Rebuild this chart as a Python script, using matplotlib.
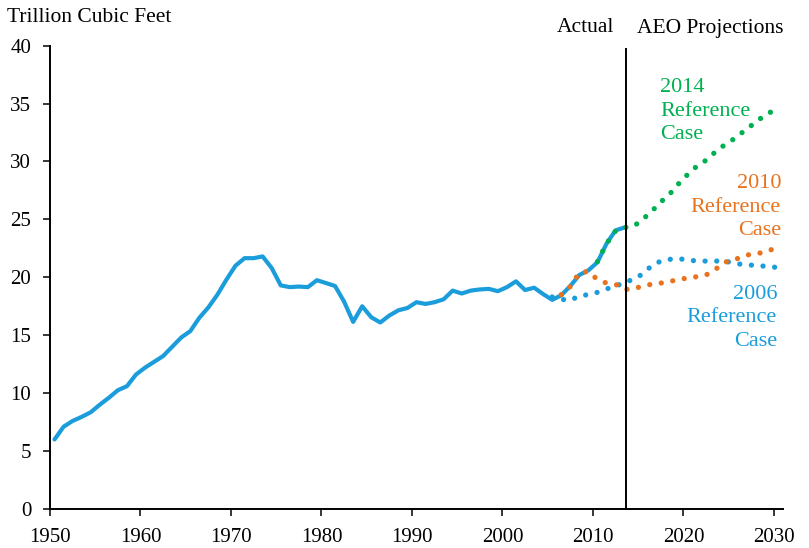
import numpy as np
import matplotlib
matplotlib.use('Agg')
import matplotlib.pyplot as plt

#%% Data (trillion cubic feet)

actual_years = np.arange(1950, 2014)
actual_vals = [6.0, 7.1, 7.6, 7.95, 8.35, 9.0, 9.6, 10.25, 10.6, 11.6,
               12.2, 12.7, 13.2, 14.0, 14.8, 15.35, 16.5, 17.4, 18.5, 19.8,
               21.0, 21.65, 21.65, 21.8, 20.8, 19.3, 19.15, 19.2, 19.15, 19.75,
               19.5, 19.25, 17.9, 16.15, 17.5, 16.55, 16.1, 16.7, 17.15, 17.35,
               17.85, 17.7, 17.85, 18.1, 18.85, 18.6, 18.85, 18.95, 19.0, 18.8,
               19.15, 19.65, 18.9, 19.1, 18.55, 18.05, 18.45, 19.25, 20.2, 20.6,
               21.3, 22.9, 24.05, 24.3]

aeo2014_years = np.arange(2010, 2031)
aeo2014_vals = [21.35, 22.9, 24.0, 24.3, 24.4, 25.0, 25.7, 26.5, 27.2, 28.1,
                28.9, 29.6, 30.1, 30.8, 31.4, 31.9, 32.5, 33.1, 33.7, 34.2, 34.6]

aeo2010_years = np.arange(2006, 2031)
aeo2010_vals = [18.5, 19.2, 20.4, 20.5, 19.8, 19.5, 19.4, 18.95, 19.0, 19.25,
                19.4, 19.5, 19.65, 19.8, 19.95, 20.05, 20.2, 20.65, 21.3, 21.45,
                21.8, 22.0, 22.1, 22.35, 22.5]

aeo2006_years = np.arange(2005, 2031)
aeo2006_vals = [18.3, 18.1, 18.0, 18.4, 18.5, 18.7, 19.0, 19.2, 19.6, 19.8,
                20.3, 21.0, 21.4, 21.55, 21.6, 21.5, 21.4, 21.4, 21.4, 21.4,
                21.25, 21.1, 21.05, 21.0, 20.9, 20.85]

x_ticks = [1950, 1960, 1970, 1980, 1990, 2000, 2010, 2020, 2030]
y_ticks = [0, 5, 10, 15, 20, 25, 30, 35, 40]

split_year = 2013.7

#%% Style

blue = '#1b9ddb'
green = '#00b050'
orange = '#e8731f'

plt.rcParams['font.family'] = ['Liberation Serif', 'DejaVu Serif']

fig = plt.figure(figsize=(8.09, 5.48), dpi=100)
ax = fig.add_axes([0.0618, 0.0712, 0.906, 0.8456])

# values are drawn at mid-year
off = 0.5
dot_style = dict(linestyle=(0, (0.01, 2.2)), linewidth=3.8,
                 dash_capstyle='round', clip_on=False, zorder=3)

ax.plot(actual_years + off, actual_vals, color=blue, linewidth=3.0,
        solid_capstyle='round', solid_joinstyle='round', zorder=2)
ax.plot(aeo2006_years + off, aeo2006_vals, color=blue, **dot_style)
ax.plot(aeo2010_years + off, aeo2010_vals, color=orange, **dot_style)
ax.plot(aeo2014_years + off, aeo2014_vals, color=green, **dot_style)

ax.plot([split_year, split_year], [0, 39.7], color='black', linewidth=1.4,
        zorder=4)

#%% Axes format

ax.set_xlim(1950, 2031)
ax.set_ylim(0, 40)
ax.set_xticks(x_ticks)
ax.set_yticks(y_ticks)
ax.tick_params(axis='both', direction='out', length=5, width=1.1,
               labelsize=15, color='black')
ax.tick_params(axis='y', pad=8.5)
ax.tick_params(axis='x', pad=9)
for s in ['top', 'right']:
    ax.spines[s].set_visible(False)
for s in ['left', 'bottom']:
    ax.spines[s].set_linewidth(1.4)

#%% Text

fig.text(7 / 809, 1 - 17 / 548, 'Trillion Cubic Feet', fontsize=15.5,
         ha='left', va='center')
fig.text(614 / 809, 1 - 28 / 548, 'Actual', fontsize=15.5,
         ha='right', va='center')
fig.text(637 / 809, 1 - 28 / 548, 'AEO Projections', fontsize=15.5,
         ha='left', va='center')

fig.text(660 / 809, 1 - 111 / 548, '2014\nReference\nCase', fontsize=16,
         color=green, ha='left', va='center', linespacing=1.3)
fig.text(781 / 809, 1 - 207 / 548, '2010\nReference\nCase', fontsize=16,
         color=orange, ha='right', va='center', linespacing=1.3,
         multialignment='right')
fig.text(777 / 809, 1 - 318 / 548, '2006\nReference\nCase', fontsize=16,
         color=blue, ha='right', va='center', linespacing=1.3,
         multialignment='right')

plt.savefig('out.png', dpi=100)
